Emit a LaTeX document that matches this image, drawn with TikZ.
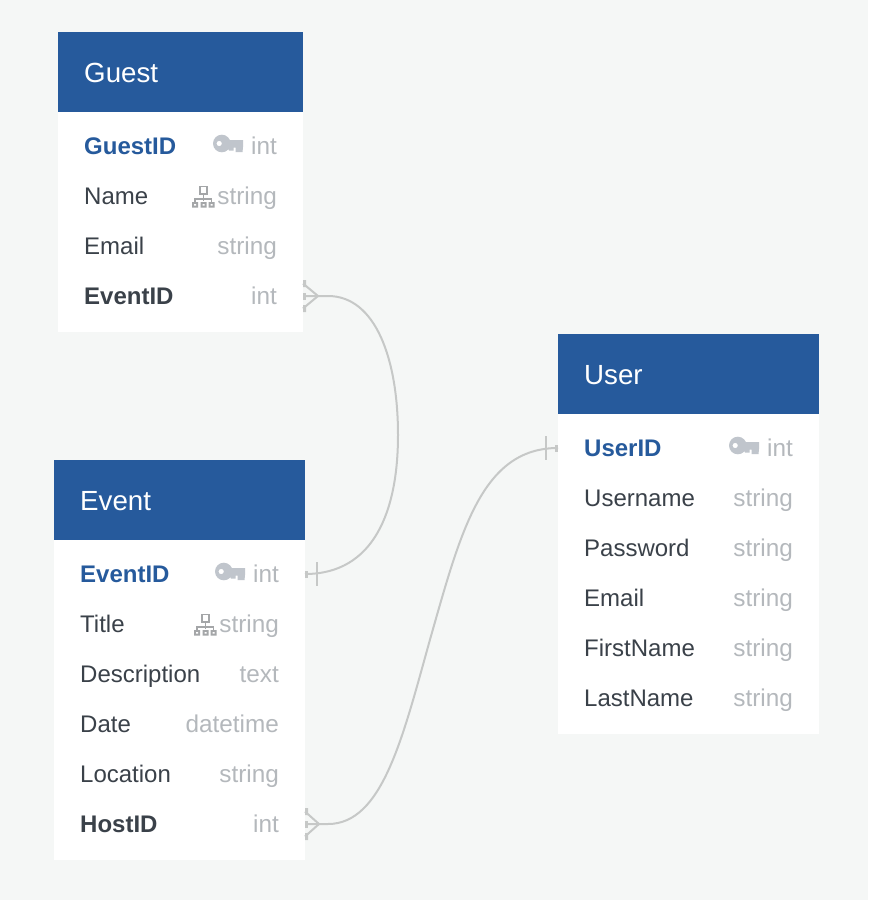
\documentclass[tikz,border=0pt]{standalone}
\usepackage{fontspec}
\setmainfont{Liberation Sans}
\definecolor{pagebg}{HTML}{F5F7F6}
\definecolor{headblue}{HTML}{265A9C}
\definecolor{namedark}{HTML}{3A4149}
\definecolor{typegray}{HTML}{B4B8BC}
\definecolor{keygray}{HTML}{C0C5CC}
\definecolor{treegray}{HTML}{A4A6A8}
\definecolor{linkgray}{HTML}{C6C8C7}
\tikzset{
  x=1pt,y=-1pt,
  titletext/.style={text=white,inner sep=0pt,anchor=base west,font=\fontsize{27.7}{32}\selectfont},
  fieldtext/.style={text=namedark,inner sep=0pt,anchor=base west,font=\fontsize{24}{28}\selectfont},
  fkfield/.style={fieldtext,font=\fontsize{24}{28}\selectfont\bfseries},
  pkfield/.style={fkfield,text=headblue},
  typetext/.style={text=typegray,inner sep=0pt,anchor=base east,font=\fontsize{24.3}{28}\selectfont},
  port/.style={inner sep=0pt,minimum size=0pt,outer sep=0pt},
  link/.style={draw=linkgray,line width=2pt},
  keyicon/.pic={
    \fill[keygray,even odd rule] (8.8,8.5) circle[radius=8.8] (6.2,8.5) circle[radius=2.7];
    \fill[keygray] (14,5) -- (30,5) -- (30,12) -- (29.5,17.2) -- (22.5,17.2) -- (22.5,12.5) -- (20.5,12.5) -- (20.5,15.5) -- (16,15.5) -- (14,12) -- cycle;
  },
  treeicon/.pic={
    \draw[treegray,line width=1.4pt] (8,0.7) rectangle (15,8);
    \draw[treegray,line width=1.4pt] (11.5,8) -- (11.5,15) (3,17) -- (3,13) -- (19.5,13) -- (19.5,17);
    \fill[treegray] (0,16) rectangle (6,21.5) (8.5,16) rectangle (14.5,21.5) (16.5,16) rectangle (22.5,21.5);
    \fill[white] (2,18) rectangle (4,19.6) (10.5,18) rectangle (12.5,19.6) (18.5,18) rectangle (20.5,19.6);
  },
}
\newcommand{\ertrow}[6]{\node[#5] (#1name) at (#2,#4+8) {#6};}
\newcommand{\ertype}[4]{\node[typetext] (#1type) at (#2,#3+8) {#4};}
\begin{document}
\begin{tikzpicture}
\useasboundingbox (0,0) rectangle (868,900);
\fill[pagebg] (0,0) rectangle (868,900);

% ---------- Guest ----------
\fill[white] (58,112) rectangle (303,332);
\fill[headblue] (58,32) rectangle (303,112);
\node[titletext] (guestTitle) at (84,82) {Guest};
\ertrow{gGuestID}{84}{277}{146}{pkfield}{GuestID}\ertype{gGuestID}{277}{146}{int}
\ertrow{gName}{84}{277}{196}{fieldtext}{Name}\ertype{gName}{277}{196}{string}
\ertrow{gEmail}{84}{277}{246}{fieldtext}{Email}\ertype{gEmail}{277}{246}{string}
\ertrow{gEventID}{84}{277}{296}{fkfield}{EventID}\ertype{gEventID}{277}{296}{int}
\pic at (213,135) {keyicon};
\pic at (192,186) {treeicon};
\node[port] (guestEventPort) at (303,296) {};

% ---------- Event ----------
\fill[white] (54,540) rectangle (305,860);
\fill[headblue] (54,460) rectangle (305,540);
\node[titletext] (eventTitle) at (80,510) {Event};
\ertrow{eEventID}{80}{279}{574}{pkfield}{EventID}\ertype{eEventID}{279}{574}{int}
\ertrow{eTitle}{80}{279}{624}{fieldtext}{Title}\ertype{eTitle}{279}{624}{string}
\ertrow{eDesc}{80}{279}{674}{fieldtext}{Description}\ertype{eDesc}{279}{674}{text}
\ertrow{eDate}{80}{279}{724}{fieldtext}{Date}\ertype{eDate}{279}{724}{datetime}
\ertrow{eLoc}{80}{279}{774}{fieldtext}{Location}\ertype{eLoc}{279}{774}{string}
\ertrow{eHost}{80}{279}{824}{fkfield}{HostID}\ertype{eHost}{279}{824}{int}
\pic at (215,563) {keyicon};
\pic at (194,614) {treeicon};
\node[port] (eventIDPort) at (305,574) {};
\node[port] (eventHostPort) at (305,824) {};

% ---------- User ----------
\fill[white] (558,414) rectangle (819,734);
\fill[headblue] (558,334) rectangle (819,414);
\node[titletext] (userTitle) at (584,384) {User};
\ertrow{uUserID}{584}{793}{448}{pkfield}{UserID}\ertype{uUserID}{793}{448}{int}
\ertrow{uName}{584}{793}{498}{fieldtext}{Username}\ertype{uName}{793}{498}{string}
\ertrow{uPass}{584}{793}{548}{fieldtext}{Password}\ertype{uPass}{793}{548}{string}
\ertrow{uEmail}{584}{793}{598}{fieldtext}{Email}\ertype{uEmail}{793}{598}{string}
\ertrow{uFirst}{584}{793}{648}{fieldtext}{FirstName}\ertype{uFirst}{793}{648}{string}
\ertrow{uLast}{584}{793}{698}{fieldtext}{LastName}\ertype{uLast}{793}{698}{string}
\pic at (729,437) {keyicon};
\node[port] (userIDPort) at (558,448) {};

% ---------- Connectors ----------
\draw[link] (guestEventPort) -- ++(25,0) .. controls +(48,0) and +(0,-75) .. (398,435)
  .. controls +(0,76) and +(47,0) .. ([xshift=22pt]eventIDPort) -- (eventIDPort);
\draw[link] (eventHostPort) -- ++(23,0) .. controls +(55,0) and +(-28,100) .. (431,636)
  .. controls +(30,-105) and +(-50,0) .. ([xshift=-26pt]userIDPort) -- (userIDPort);

% crow's feet
\draw[link] (guestEventPort) ++(15,0) -- ++(-15,-12.5) (guestEventPort) ++(15,0) -- ++(-15,12.5);
\draw[link] (eventHostPort) ++(14,0) -- ++(-14,-12.5) (eventHostPort) ++(14,0) -- ++(-14,12.5);
% single bars
\draw[link] (eventIDPort) ++(12,-12) -- ++(0,24);
\draw[link] (userIDPort) ++(-12,-12) -- ++(0,24);
% small stubs on table edges
\foreach \p/\s in {guestEventPort/1,eventIDPort/1,eventHostPort/1,userIDPort/-1}{
  \fill[linkgray] (\p) ++(0,-3.5) rectangle ++(\s*3,7);
}
\fill[linkgray] (guestEventPort) ++(0,-16) rectangle ++(3,7) (guestEventPort) ++(0,9) rectangle ++(3,7);
\fill[linkgray] (eventHostPort) ++(0,-16) rectangle ++(3,7) (eventHostPort) ++(0,9) rectangle ++(3,7);
\end{tikzpicture}
\end{document}
